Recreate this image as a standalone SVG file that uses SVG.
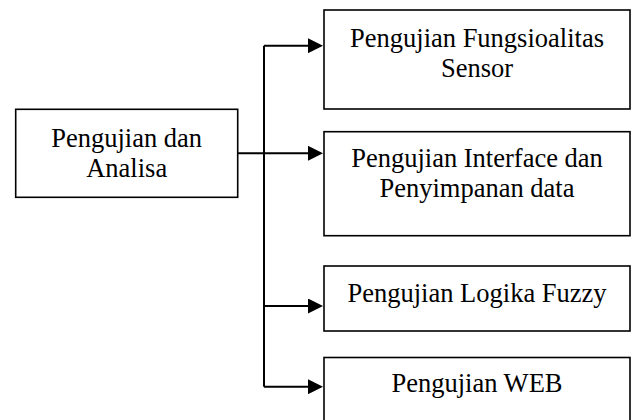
<svg xmlns="http://www.w3.org/2000/svg" width="632" height="420" viewBox="0 0 632 420">
  <style>
    .box { fill: #ffffff; stroke: #000000; stroke-width: 1.6; }
    .lbl { font-family: "Liberation Serif", "Times New Roman", serif; font-size: 26.5px; fill: #000000; text-anchor: middle; }
    .conn { fill: none; stroke: #000000; stroke-width: 2; }
  </style>
  <defs>
    <marker id="arrow" markerUnits="userSpaceOnUse" markerWidth="15" markerHeight="15" refX="2" refY="7.5" orient="auto">
      <path d="M0,0 L15,7.5 L0,15 z" fill="#000000"/>
    </marker>
  </defs>
  <rect width="632" height="420" fill="#ffffff"/>

  <g id="connectors">
    <path class="conn" d="M264,45.7 L264,386.7"/>
    <path class="conn" d="M264,45.7 L310,45.7" marker-end="url(#arrow)"/>
    <path class="conn" d="M237.7,153.3 L310,153.3" marker-end="url(#arrow)"/>
    <path class="conn" d="M264,306 L310,306" marker-end="url(#arrow)"/>
    <path class="conn" d="M264,386.7 L310,386.7" marker-end="url(#arrow)"/>
  </g>

  <g id="node-root">
    <rect class="box" x="15.7" y="109.3" width="222" height="88"/>
    <text class="lbl" x="126.7" y="146.7">Pengujian dan</text>
    <text class="lbl" x="126.7" y="176.7">Analisa</text>
  </g>

  <g id="node-sensor">
    <rect class="box" x="324" y="10" width="306" height="99"/>
    <text class="lbl" x="477" y="46.7">Pengujian Fungsioalitas</text>
    <text class="lbl" x="477" y="77.3">Sensor</text>
  </g>

  <g id="node-interface">
    <rect class="box" x="324" y="131.7" width="306" height="104"/>
    <text class="lbl" x="477" y="166.7">Pengujian Interface dan</text>
    <text class="lbl" x="477" y="197.3">Penyimpanan data</text>
  </g>

  <g id="node-fuzzy">
    <rect class="box" x="324" y="266" width="306" height="65"/>
    <text class="lbl" x="477" y="301.7">Pengujian Logika Fuzzy</text>
  </g>

  <g id="node-web">
    <rect class="box" x="324" y="357.5" width="306" height="70"/>
    <text class="lbl" x="477" y="392">Pengujian WEB</text>
  </g>
</svg>
